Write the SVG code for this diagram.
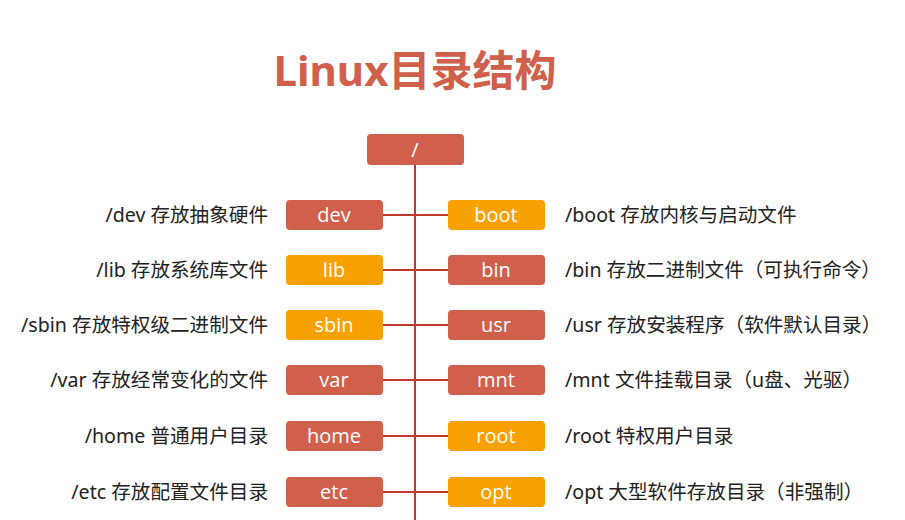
<svg xmlns="http://www.w3.org/2000/svg" width="905" height="520" viewBox="0 0 905 520">
<style>
.r{fill:#D0604C}.o{fill:#F9A100}
.bt{font-family:"Open Sans","Noto Sans",sans-serif;font-size:20px;fill:#fff;text-anchor:middle}
.lb{font-family:"Noto Sans","Noto Sans CJK SC",sans-serif;font-size:19.6px;fill:#222}
.ln{stroke:#C0392B;stroke-width:2;fill:none}
</style>
<rect width="905" height="520" fill="#fff"/>
<text x="415" y="86" text-anchor="middle" font-family="Noto Sans,Noto Sans CJK SC,sans-serif" font-weight="bold" font-size="42" fill="#D0604C">Linux目录结构</text>
<g id="connectors">
<path class="ln" d="M415 165V520"/>
<path class="ln" d="M383 215H448M383 270H448M383 325H448M383 380H448M383 436H448M383 492H448"/>
</g>
<g id="root"><rect class="r" x="367" y="134" width="97" height="31" rx="4"/><text class="bt" x="415" y="157">/</text></g>
<g id="dev"><rect class="r" x="286" y="200" width="97" height="30" rx="4"/><text class="bt" x="334" y="222">dev</text><text class="lb" x="268" y="222" text-anchor="end">/dev 存放抽象硬件</text></g>
<g id="lib"><rect class="o" x="286" y="255" width="97" height="30" rx="4"/><text class="bt" x="334" y="277">lib</text><text class="lb" x="268" y="277" text-anchor="end">/lib 存放系统库文件</text></g>
<g id="sbin"><rect class="o" x="286" y="310" width="97" height="30" rx="4"/><text class="bt" x="334" y="332">sbin</text><text class="lb" x="268" y="332" text-anchor="end">/sbin 存放特权级二进制文件</text></g>
<g id="var"><rect class="r" x="286" y="365" width="97" height="30" rx="4"/><text class="bt" x="334" y="387">var</text><text class="lb" x="268" y="387" text-anchor="end">/var 存放经常变化的文件</text></g>
<g id="home"><rect class="r" x="286" y="421" width="97" height="30" rx="4"/><text class="bt" x="334" y="443">home</text><text class="lb" x="268" y="443" text-anchor="end">/home 普通用户目录</text></g>
<g id="etc"><rect class="r" x="286" y="477" width="97" height="30" rx="4"/><text class="bt" x="334" y="499">etc</text><text class="lb" x="268" y="499" text-anchor="end">/etc 存放配置文件目录</text></g>
<g id="boot"><rect class="o" x="448" y="200" width="97" height="30" rx="4"/><text class="bt" x="496" y="222">boot</text><text class="lb" x="565" y="222">/boot 存放内核与启动文件</text></g>
<g id="bin"><rect class="r" x="448" y="255" width="97" height="30" rx="4"/><text class="bt" x="496" y="277">bin</text><text class="lb" x="565" y="277">/bin 存放二进制文件（可执行命令）</text></g>
<g id="usr"><rect class="r" x="448" y="310" width="97" height="30" rx="4"/><text class="bt" x="496" y="332">usr</text><text class="lb" x="565" y="332">/usr 存放安装程序（软件默认目录）</text></g>
<g id="mnt"><rect class="r" x="448" y="365" width="97" height="30" rx="4"/><text class="bt" x="496" y="387">mnt</text><text class="lb" x="565" y="387">/mnt 文件挂载目录（u盘、光驱）</text></g>
<g id="rootdir"><rect class="o" x="448" y="421" width="97" height="30" rx="4"/><text class="bt" x="496" y="443">root</text><text class="lb" x="565" y="443">/root 特权用户目录</text></g>
<g id="opt"><rect class="o" x="448" y="477" width="97" height="30" rx="4"/><text class="bt" x="496" y="499">opt</text><text class="lb" x="565" y="499">/opt 大型软件存放目录（非强制）</text></g>
</svg>
